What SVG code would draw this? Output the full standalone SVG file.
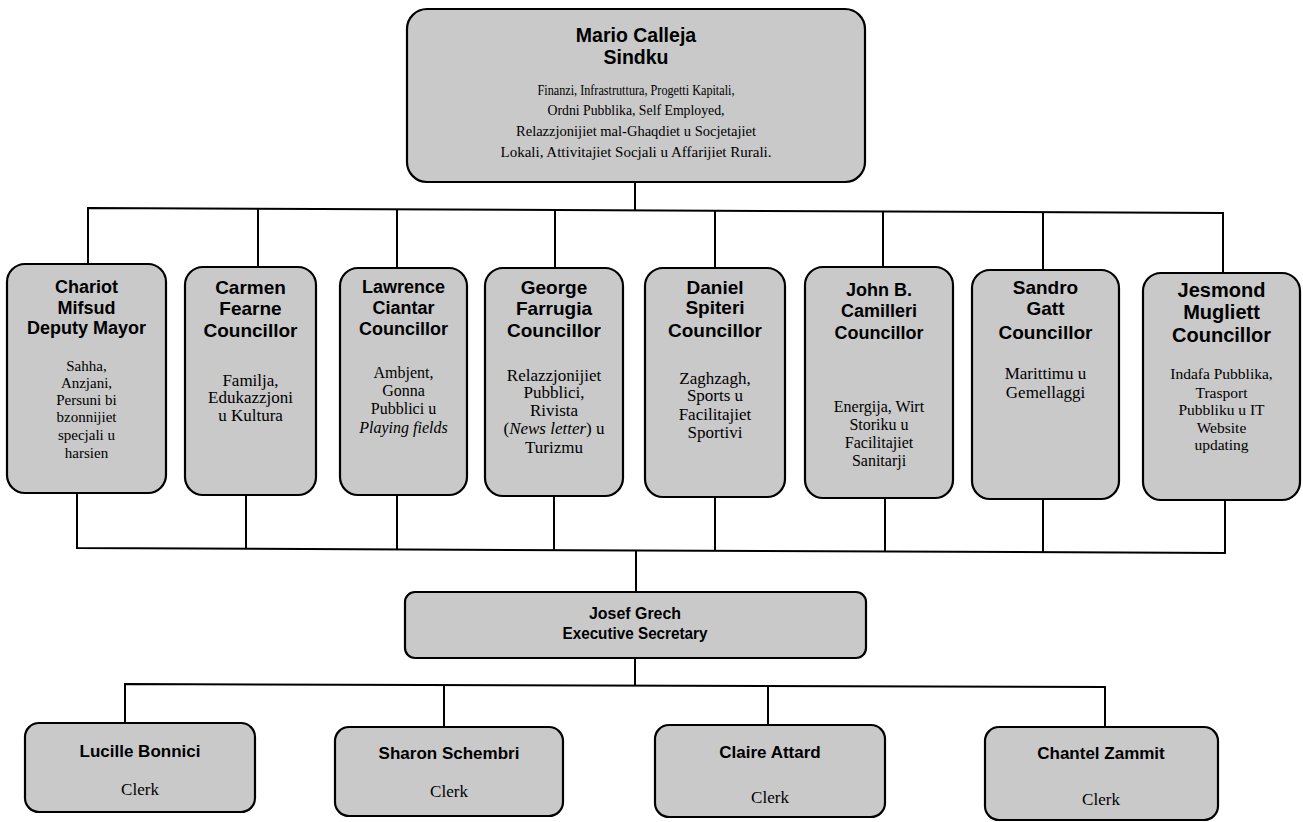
<svg xmlns="http://www.w3.org/2000/svg" width="1303" height="822" viewBox="0 0 1303 822">
<style>
.box{fill:#c9c9c9;stroke:#000;stroke-width:2.2}
.t{font-family:"Liberation Sans",Arial,sans-serif;font-weight:bold;text-anchor:middle;dominant-baseline:central;fill:#000}
.b{font-family:"Liberation Serif","Times New Roman",serif;text-anchor:middle;dominant-baseline:central;fill:#000}
.i{font-style:italic}
.c{fill:none;stroke:#000;stroke-width:2}
</style>
<rect width="1303" height="822" fill="#fff"/>
<g id="connectors">
<path class="c" d="M635 183 V210"/>
<path class="c" d="M88 264 V208 L1223 213 V273"/>
<path class="c" d="M258 267 V209 M397 268 V210 M555 268 V211 M715 268 V211 M883 267 V212 M1043 270 V212"/>
<path class="c" d="M77 493 V548 L1225 553 V500"/>
<path class="c" d="M246 495 V549 M397 495 V549 M554 496 V550 M715 497 V551 M885 498 V552 M1043 499 V552"/>
<path class="c" d="M636 550 V592"/>
<path class="c" d="M635 658 V685"/>
<path class="c" d="M125 723 V684 L1105 687 V727"/>
<path class="c" d="M444 727 V685 M768 725 V686"/>
</g>
<g id="mayor">
<rect class="box" x="407" y="9" width="458" height="173" rx="20"/>
<text class="t" x="636" y="35" font-size="19.5">Mario Calleja</text>
<text class="t" x="636" y="57" font-size="19.5">Sindku</text>
<text class="b" x="636" y="90" font-size="15" textLength="197" lengthAdjust="spacingAndGlyphs">Finanzi, Infrastruttura, Progetti Kapitali,</text>
<text class="b" x="636" y="110" font-size="15" textLength="177" lengthAdjust="spacingAndGlyphs">Ordni Pubblika, Self Employed,</text>
<text class="b" x="636" y="131" font-size="15" textLength="240" lengthAdjust="spacingAndGlyphs">Relazzjonijiet mal-Ghaqdiet u Socjetajiet</text>
<text class="b" x="636" y="152" font-size="15" textLength="271" lengthAdjust="spacingAndGlyphs">Lokali, Attivitajiet Socjali u Affarijiet Rurali.</text>
</g>
<g id="mifsud">
<rect class="box" x="7" y="264" width="159" height="229" rx="18"/>
<text class="t" x="86.5" y="287" font-size="18">Chariot</text>
<text class="t" x="86.5" y="308" font-size="18">Mifsud</text>
<text class="t" x="86.5" y="328" font-size="18">Deputy Mayor</text>
<text class="b" x="86.5" y="366" font-size="15">Sahha,</text>
<text class="b" x="86.5" y="383" font-size="15">Anzjani,</text>
<text class="b" x="86.5" y="400" font-size="15">Persuni bi</text>
<text class="b" x="86.5" y="417" font-size="15">bzonnijiet</text>
<text class="b" x="86.5" y="435" font-size="15">specjali u</text>
<text class="b" x="86.5" y="453" font-size="15">harsien</text>
</g>
<g id="fearne">
<rect class="box" x="185" y="267" width="131" height="228" rx="18"/>
<text class="t" x="250.5" y="287" font-size="19">Carmen</text>
<text class="t" x="250.5" y="308" font-size="19">Fearne</text>
<text class="t" x="250.5" y="330" font-size="19">Councillor</text>
<text class="b" x="250.5" y="380" font-size="17">Familja,</text>
<text class="b" x="250.5" y="397" font-size="17">Edukazzjoni</text>
<text class="b" x="250.5" y="415" font-size="17">u Kultura</text>
</g>
<g id="ciantar">
<rect class="box" x="340" y="268" width="127" height="227" rx="18"/>
<text class="t" x="403.5" y="287" font-size="18">Lawrence</text>
<text class="t" x="403.5" y="308" font-size="18">Ciantar</text>
<text class="t" x="403.5" y="329" font-size="18">Councillor</text>
<text class="b" x="403.5" y="372" font-size="16">Ambjent,</text>
<text class="b" x="403.5" y="390" font-size="16">Gonna</text>
<text class="b" x="403.5" y="408" font-size="16">Pubblici u</text>
<text class="b i" x="403.5" y="427" font-size="16">Playing fields</text>
</g>
<g id="farrugia">
<rect class="box" x="485" y="268" width="138" height="228" rx="18"/>
<text class="t" x="554" y="287" font-size="19">George</text>
<text class="t" x="554" y="308" font-size="19">Farrugia</text>
<text class="t" x="554" y="330" font-size="19">Councillor</text>
<text class="b" x="554" y="375" font-size="17">Relazzjonijiet</text>
<text class="b" x="554" y="392" font-size="17">Pubblici,</text>
<text class="b" x="554" y="410" font-size="17">Rivista</text>
<text class="b" x="554" y="428" font-size="17">(<tspan class="i">News letter</tspan>) u</text>
<text class="b" x="554" y="447" font-size="17">Turizmu</text>
</g>
<g id="spiteri">
<rect class="box" x="645" y="268" width="140" height="229" rx="18"/>
<text class="t" x="715" y="287" font-size="19">Daniel</text>
<text class="t" x="715" y="307" font-size="19">Spiteri</text>
<text class="t" x="715" y="330" font-size="19">Councillor</text>
<text class="b" x="715" y="378" font-size="17">Zaghzagh,</text>
<text class="b" x="715" y="395" font-size="17">Sports u</text>
<text class="b" x="715" y="414" font-size="17">Facilitajiet</text>
<text class="b" x="715" y="432" font-size="17">Sportivi</text>
</g>
<g id="camilleri">
<rect class="box" x="805" y="267" width="148" height="231" rx="18"/>
<text class="t" x="879" y="290" font-size="18">John B.</text>
<text class="t" x="879" y="311" font-size="18">Camilleri</text>
<text class="t" x="879" y="333" font-size="18">Councillor</text>
<text class="b" x="879" y="406" font-size="16">Energija, Wirt</text>
<text class="b" x="879" y="424" font-size="16">Storiku u</text>
<text class="b" x="879" y="442" font-size="16">Facilitajiet</text>
<text class="b" x="879" y="460" font-size="16">Sanitarji</text>
</g>
<g id="gatt">
<rect class="box" x="972" y="270" width="147" height="229" rx="18"/>
<text class="t" x="1045.5" y="287" font-size="19">Sandro</text>
<text class="t" x="1045.5" y="308" font-size="19">Gatt</text>
<text class="t" x="1045.5" y="332" font-size="19">Councillor</text>
<text class="b" x="1045.5" y="373" font-size="17">Marittimu u</text>
<text class="b" x="1045.5" y="392" font-size="17">Gemellaggi</text>
</g>
<g id="mugliett">
<rect class="box" x="1143" y="273" width="157" height="227" rx="18"/>
<text class="t" x="1221.5" y="290" font-size="20">Jesmond</text>
<text class="t" x="1221.5" y="312" font-size="20">Mugliett</text>
<text class="t" x="1221.5" y="335" font-size="20">Councillor</text>
<text class="b" x="1221.5" y="373" font-size="15.5">Indafa Pubblika,</text>
<text class="b" x="1221.5" y="392" font-size="15.5">Trasport</text>
<text class="b" x="1221.5" y="409" font-size="15.5">Pubbliku u IT</text>
<text class="b" x="1221.5" y="427" font-size="15.5">Website</text>
<text class="b" x="1221.5" y="444" font-size="15.5">updating</text>
</g>
<g id="grech">
<rect class="box" x="405" y="592" width="461" height="66" rx="10"/>
<text class="t" x="635" y="613" font-size="17" textLength="92" lengthAdjust="spacingAndGlyphs">Josef Grech</text>
<text class="t" x="635" y="633" font-size="17" textLength="145" lengthAdjust="spacingAndGlyphs">Executive Secretary</text>
</g>
<g id="bonnici">
<rect class="box" x="25" y="723" width="230" height="89" rx="14"/>
<text class="t" x="140" y="751" font-size="17">Lucille Bonnici</text>
<text class="b" x="140" y="789" font-size="17">Clerk</text>
</g>
<g id="schembri">
<rect class="box" x="335" y="727" width="228" height="89" rx="14"/>
<text class="t" x="449" y="753" font-size="17">Sharon Schembri</text>
<text class="b" x="449" y="791" font-size="17">Clerk</text>
</g>
<g id="attard">
<rect class="box" x="655" y="725" width="230" height="92" rx="14"/>
<text class="t" x="770" y="752" font-size="17">Claire Attard</text>
<text class="b" x="770" y="797" font-size="17">Clerk</text>
</g>
<g id="zammit">
<rect class="box" x="985" y="727" width="233" height="93" rx="14"/>
<text class="t" x="1101" y="753" font-size="17">Chantel Zammit</text>
<text class="b" x="1101" y="799" font-size="17">Clerk</text>
</g>
</svg>
